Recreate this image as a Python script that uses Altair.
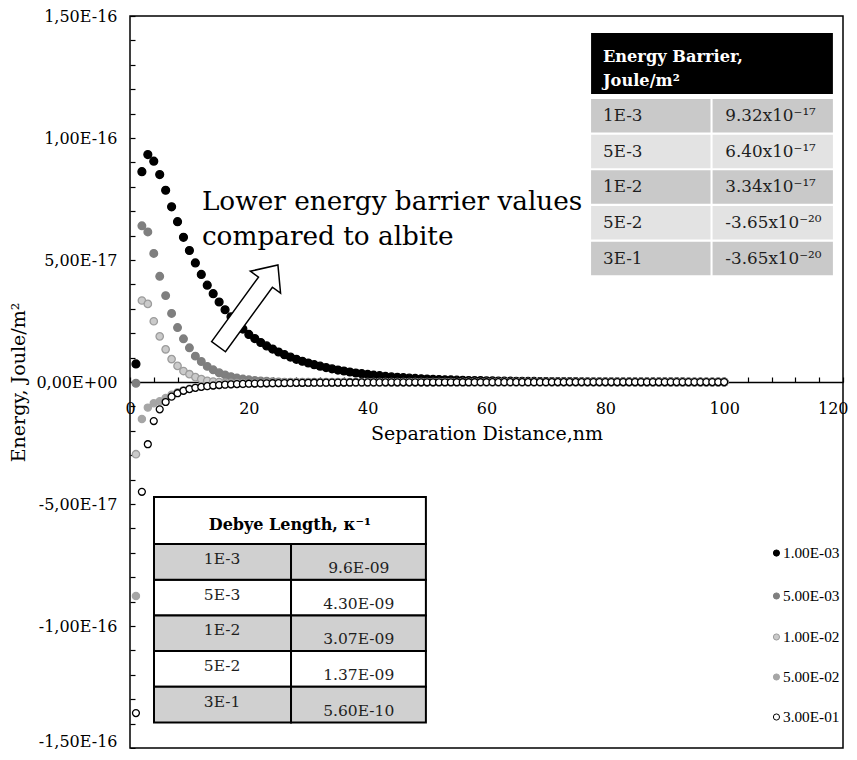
import json
import altair as alt
import pandas as pd

# ---------------- data (energy in units of 1e-17 J/m2) ----------------
SERIES = ["1.00E-03", "5.00E-03", "1.00E-02", "5.00E-02", "3.00E-01"]
FILLS = ["#000000", "#7f7f7f", "#cacaca", "#a6a6a6", "#ffffff"]
STROKES = ["#000000", "#7f7f7f", "#9c9c9c", "#a6a6a6", "#000000"]
SIZES = [62, 48, 62, 46, 62]

DIST_NM = list(range(1, 101))

E_1E3 = [0.74, 8.62, 9.32, 9.05, 8.50, 7.86, 7.18, 6.57, 5.93, 5.39,
         4.88, 4.41, 3.97, 3.62, 3.28, 2.96, 2.67, 2.41, 2.17, 1.95,
         1.78, 1.62, 1.48, 1.35, 1.23, 1.12, 1.02, 0.93, 0.85, 0.78,
         0.71, 0.65, 0.59, 0.54, 0.49, 0.45, 0.41, 0.37, 0.34, 0.31,
         0.28, 0.26, 0.23, 0.21, 0.19, 0.176, 0.16, 0.146, 0.133, 0.121,
         0.11, 0.10, 0.092, 0.084, 0.076, 0.070, 0.063, 0.058, 0.053, 0.048,
         0.044, 0.040, 0.036, 0.033, 0.030, 0.027, 0.025, 0.023, 0.021, 0.019,
         0.017, 0.015, 0.014, 0.013, 0.012, 0.011, 0.010, 0.009, 0.008, 0.007,
         0.006, 0.006, 0.005, 0.005, 0.004, 0.004, 0.003, 0.003, 0.003, 0.002,
         0.002, 0.002, 0.002, 0.001, 0.001, 0.001, 0.001, 0.001, 0.001, 0.001]

E_5E3 = [-0.05, 6.40, 6.15, 5.27, 4.33, 3.54, 2.81, 2.23, 1.77, 1.40,
         1.06, 0.84, 0.64, 0.50, 0.38, 0.29, 0.22, 0.16, 0.12, 0.09,
         0.06, 0.04, 0.03, 0.01, 0.00, -0.005, -0.01, -0.01, -0.01, -0.01,
         -0.01, -0.01, -0.01, -0.01, -0.01, -0.01, -0.01, -0.01, -0.01, -0.01,
         -0.008, -0.008, -0.008, -0.008, -0.008, -0.008, -0.008, -0.008, -0.008, -0.008,
         -0.006, -0.006, -0.006, -0.006, -0.006, -0.006, -0.006, -0.006, -0.006, -0.006,
         -0.005, -0.005, -0.005, -0.005, -0.005, -0.005, -0.005, -0.005, -0.005, -0.005,
         -0.004, -0.004, -0.004, -0.004, -0.004, -0.004, -0.004, -0.004, -0.004, -0.004,
         -0.003, -0.003, -0.003, -0.003, -0.003, -0.003, -0.003, -0.003, -0.003, -0.003,
         -0.003, -0.003, -0.003, -0.003, -0.003, -0.003, -0.003, -0.003, -0.003, -0.003]

E_1E2 = [-2.96, 3.34, 3.20, 2.49, 1.87, 1.34, 0.94, 0.66, 0.45, 0.32,
         0.20, 0.12, 0.05, 0.02, 0.00, -0.03, -0.04, -0.05, -0.05, -0.05,
         -0.05, -0.05, -0.04, -0.04, -0.04, -0.04, -0.03, -0.03, -0.03, -0.03,
         -0.03, -0.025, -0.025, -0.025, -0.02, -0.02, -0.02, -0.02, -0.02, -0.02,
         -0.015, -0.015, -0.015, -0.015, -0.015, -0.012, -0.012, -0.012, -0.012, -0.012,
         -0.01, -0.01, -0.01, -0.01, -0.01, -0.009, -0.009, -0.009, -0.008, -0.008,
         -0.008, -0.007, -0.007, -0.007, -0.007, -0.006, -0.006, -0.006, -0.006, -0.006,
         -0.005, -0.005, -0.005, -0.005, -0.005, -0.005, -0.005, -0.005, -0.004, -0.004,
         -0.004, -0.004, -0.004, -0.004, -0.004, -0.004, -0.004, -0.004, -0.003, -0.003,
         -0.003, -0.003, -0.003, -0.003, -0.003, -0.003, -0.003, -0.003, -0.003, -0.003]

E_5E2 = [-8.77, -1.52, -1.05, -0.87, -0.79, -0.66, -0.52, -0.42, -0.34, -0.28,
         -0.23, -0.19, -0.165, -0.14, -0.125, -0.11, -0.097, -0.086, -0.078, -0.07,
         -0.063, -0.058, -0.053, -0.049, -0.045, -0.041, -0.038, -0.036, -0.033, -0.031,
         -0.029, -0.027, -0.026, -0.024, -0.023, -0.022, -0.020, -0.019, -0.018, -0.018,
         -0.017, -0.016, -0.015, -0.014, -0.014, -0.013, -0.013, -0.012, -0.012, -0.011,
         -0.011, -0.010, -0.010, -0.010, -0.009, -0.009, -0.009, -0.008, -0.008, -0.008,
         -0.0075, -0.0073, -0.007, -0.0068, -0.0066, -0.0064, -0.0062, -0.006, -0.0058, -0.0057,
         -0.0055, -0.0054, -0.0052, -0.0051, -0.005, -0.0048, -0.0047, -0.0046, -0.0045, -0.0044,
         -0.0043, -0.0042, -0.0041, -0.004, -0.0039, -0.0038, -0.0037, -0.0036, -0.0035, -0.0035,
         -0.0034, -0.0033, -0.0032, -0.0032, -0.0031, -0.003, -0.003, -0.0029, -0.0029, -0.0028]

E_3E1 = [-13.57, -4.50, -2.55, -1.60, -1.12, -0.82, -0.60, -0.46, -0.36, -0.29,
         -0.24, -0.20, -0.17, -0.145, -0.125, -0.11, -0.097, -0.086, -0.078, -0.07,
         -0.063, -0.058, -0.053, -0.049, -0.045, -0.041, -0.038, -0.036, -0.033, -0.031,
         -0.029, -0.027, -0.026, -0.024, -0.023, -0.022, -0.020, -0.019, -0.018, -0.018,
         -0.017, -0.016, -0.015, -0.014, -0.014, -0.013, -0.013, -0.012, -0.012, -0.011,
         -0.011, -0.010, -0.010, -0.010, -0.009, -0.009, -0.009, -0.008, -0.008, -0.008,
         -0.0075, -0.0073, -0.007, -0.0068, -0.0066, -0.0064, -0.0062, -0.006, -0.0058, -0.0057,
         -0.0055, -0.0054, -0.0052, -0.0051, -0.005, -0.0048, -0.0047, -0.0046, -0.0045, -0.0044,
         -0.0043, -0.0042, -0.0041, -0.004, -0.0039, -0.0038, -0.0037, -0.0036, -0.0035, -0.0035,
         -0.0034, -0.0033, -0.0032, -0.0032, -0.0031, -0.003, -0.003, -0.0029, -0.0029, -0.0028]

X_LABEL_TICKS = [0, 20, 40, 60, 80, 100, 120]
X_MINOR_TICKS = list(range(0, 121, 4))
Y_TICKS = [-15, -10, -5, 0, 5, 10, 15]
Y_TICK_LABELS = ["-1,50E-16", "-1,00E-16", "-5,00E-17", "0,00E+00",
                 "5,00E-17", "1,00E-16", "1,50E-16"]
Y_MINOR_TICKS = list(range(-15, 16, 1))

TABLE_CONC = ["1E-3", "5E-3", "1E-2", "5E-2", "3E-1"]
BARRIER_TEXT = ["9.32x10\u207b\u00b9\u2077", "6.40x10\u207b\u00b9\u2077",
                "3.34x10\u207b\u00b9\u2077", "-3.65x10\u207b\u00b2\u2070",
                "-3.65x10\u207b\u00b2\u2070"]
DEBYE_TEXT = ["9.6E-09", "4.30E-09", "3.07E-09", "1.37E-09", "5.60E-10"]

ANNOTATION = "Lower energy barrier values\ncompared to albite"

# ---------------- layout ----------------
W, H = 713, 732
FONT = "DejaVu Serif"
ROW = 1.463                      # table row pitch in 1e-17 units

EB_X0, EB_XM1, EB_XM2, EB_X1 = 77.6, 97.7, 98.05, 118.3
EB_HEAD_TOP, EB_HEAD_BOT = 14.30, 11.80
EB_ROW_TOP, EB_ROW_H = 11.60, 1.373
DB_X0, DB_XM, DB_X1 = 4.04, 27.1, 49.8
DB_HEAD_TOP, DB_HEAD_BOT = -4.71, -6.64
LEG_SYM_X, LEG_TXT_X = 108.8, 109.9
LEG_Y = [-7.01, -8.77, -10.45, -12.09, -13.73]

rows = []
for name, vals in zip(SERIES, [E_1E3, E_5E3, E_1E2, E_5E2, E_3E1]):
    for d, v in zip(DIST_NM, vals):
        rows.append({"series": name, "x": d, "y": v})
df = pd.DataFrame(rows)

xscale = alt.Scale(domain=[0, 120], nice=False, zero=False)
yscale = alt.Scale(domain=[-15, 15], nice=False, zero=False)
fill_scale = alt.Scale(domain=SERIES, range=FILLS)
stroke_scale = alt.Scale(domain=SERIES, range=STROKES)
NOAX_X = dict(axis=None, scale=xscale)
NOAX_Y = dict(axis=None, scale=yscale)

label_expr = f"{json.dumps(Y_TICK_LABELS)}[indexof({json.dumps(Y_TICKS)}, datum.value)]"
YLAB = dict(labelExpr=label_expr, ticks=False, tickSize=0, domain=False, grid=False,
            labelPadding=13, labelFont=FONT, labelFontSize=16, labelColor="black")

points = alt.Chart(df).mark_circle(opacity=1, strokeWidth=1.3).encode(
    x=alt.X("x:Q", scale=xscale, axis=alt.Axis(
        orient="bottom", offset=-H / 2, values=X_LABEL_TICKS, ticks=False, tickSize=0,
        domain=False, grid=False, labelFlush=True, labelFlushOffset=5, labelPadding=18,
        labelFont=FONT, labelFontSize=16, labelColor="black",
        title="Separation Distance,nm", titleFont=FONT, titleFontSize=19,
        titleFontWeight="normal", titleColor="black", titlePadding=8)),
    y=alt.Y("y:Q", scale=yscale, axis=alt.Axis(
        orient="left", values=Y_TICKS[:-1], labelFlush=True, labelFlushOffset=1,
        title="Energy, Joule/m\u00b2", titleFont=FONT,
        titleFontSize=19, titleFontWeight="normal", titleColor="black", titlePadding=7,
        **YLAB)),
    fill=alt.Fill("series:N", scale=fill_scale, legend=None),
    stroke=alt.Stroke("series:N", scale=stroke_scale, legend=None),
    size=alt.Size("series:N", scale=alt.Scale(domain=SERIES, range=SIZES), legend=None),
)

# inside tick marks on the zero line and the left edge; top y label
tick_layer = alt.Chart(df).mark_point(opacity=0).encode(
    x=alt.X("x:Q", scale=xscale, axis=alt.Axis(
        orient="top", offset=-H / 2, values=X_MINOR_TICKS, labels=False, ticks=True,
        tickSize=5, tickColor="black", tickWidth=1.2, domain=True, domainColor="black",
        domainWidth=1.6, grid=False, title=None)),
    y=alt.Y("y:Q", scale=yscale, axis=alt.Axis(
        orient="left", values=Y_MINOR_TICKS, labels=False, ticks=True, tickSize=5,
        tickColor="black", tickWidth=1.2, domain=False, grid=False, title=None,
        offset=-5)),
)
top_label = alt.Chart(df).mark_point(opacity=0).encode(
    x=alt.X("x:Q", **NOAX_X),
    y=alt.Y("y:Q", scale=yscale, axis=alt.Axis(
        orient="left", values=Y_TICKS[-1:], labelFlush=False, title=None, **YLAB)),
)

# arrow annotation
ARROW_PATH = "M -0.17 1 L -0.17 -0.58 L -0.37 -0.58 L 0 -1 L 0.37 -0.58 L 0.17 -0.58 L 0.17 1 Z"
arrow = alt.Chart(pd.DataFrame({"x": [19.9], "y": [3.12]})).mark_point(
    shape=ARROW_PATH, size=10201, angle=36, filled=True, fill="white",
    stroke="black", strokeWidth=1.5, opacity=1).encode(
    x=alt.X("x:Q", **NOAX_X), y=alt.Y("y:Q", **NOAX_Y))

note = alt.Chart(pd.DataFrame({"x": [12.1], "y": [7.05], "t": [ANNOTATION]})).mark_text(
    align="left", baseline="alphabetic", font=FONT, fontSize=26.3, lineBreak="\n",
    lineHeight=35, color="black").encode(
    x=alt.X("x:Q", **NOAX_X), y=alt.Y("y:Q", **NOAX_Y), text="t:N")

# legend
leg_df = pd.DataFrame({"series": SERIES, "x": [LEG_SYM_X] * 5, "xt": [LEG_TXT_X] * 5,
                       "y": LEG_Y})
leg_sym = alt.Chart(leg_df).mark_circle(opacity=1, strokeWidth=1, size=38).encode(
    x=alt.X("x:Q", **NOAX_X), y=alt.Y("y:Q", **NOAX_Y),
    fill=alt.Fill("series:N", scale=fill_scale, legend=None),
    stroke=alt.Stroke("series:N", scale=stroke_scale, legend=None))
leg_txt = alt.Chart(leg_df).mark_text(
    align="left", baseline="middle", font="Liberation Serif", fontSize=15.3,
    color="black").encode(x=alt.X("xt:Q", **NOAX_X), y=alt.Y("y:Q", **NOAX_Y),
                          text="series:N")

# energy barrier table
eb_cells = []
eb_text = []
for k, (c, v) in enumerate(zip(TABLE_CONC, BARRIER_TEXT)):
    top = EB_ROW_TOP - ROW * k
    col = "#c9c9c9" if k % 2 == 0 else "#e3e3e3"
    eb_cells.append({"x": EB_X0, "x2": EB_XM1, "y": top, "y2": top - EB_ROW_H, "f": col})
    eb_cells.append({"x": EB_XM2, "x2": EB_X1, "y": top, "y2": top - EB_ROW_H, "f": col})
    eb_text.append({"x": 79.6, "y": top - 0.90, "t": c})
    eb_text.append({"x": 100.2, "y": top - 0.90, "t": v})
eb_cells.append({"x": EB_X0, "x2": EB_X1, "y": EB_HEAD_TOP, "y2": EB_HEAD_BOT, "f": "#000000"})
eb_df = pd.DataFrame(eb_cells)

eb_rects = [
    alt.Chart(eb_df).transform_filter(alt.FieldEqualPredicate(field="f", equal=colr))
    .mark_rect(fill=colr).encode(
        x=alt.X("x:Q", **NOAX_X), x2="x2:Q", y=alt.Y("y:Q", **NOAX_Y), y2="y2:Q")
    for colr in ["#c9c9c9", "#e3e3e3", "#000000"]
]
eb_txt = alt.Chart(pd.DataFrame(eb_text)).mark_text(
    align="left", baseline="alphabetic", font=FONT, fontSize=16.8, color="#1e1e1e").encode(
    x=alt.X("x:Q", **NOAX_X), y=alt.Y("y:Q", **NOAX_Y), text="t:N")
eb_head = alt.Chart(pd.DataFrame({"x": [79.6], "y": [13.11],
                                  "t": ["Energy Barrier,\nJoule/m\u00b2"]})).mark_text(
    align="left", baseline="alphabetic", font=FONT, fontSize=16.2, fontWeight="bold",
    color="white", lineBreak="\n", lineHeight=23.7).encode(
    x=alt.X("x:Q", **NOAX_X), y=alt.Y("y:Q", **NOAX_Y), text="t:N")

# debye length table
db_cells = [{"x": DB_X0, "x2": DB_X1, "y": DB_HEAD_TOP, "y2": DB_HEAD_BOT, "f": "#ffffff"}]
db_text = []
for k, (c, v) in enumerate(zip(TABLE_CONC, DEBYE_TEXT)):
    top = DB_HEAD_BOT - ROW * k
    col = "#d0d0d0" if k % 2 == 0 else "#ffffff"
    db_cells.append({"x": DB_X0, "x2": DB_XM, "y": top, "y2": top - ROW, "f": col})
    db_cells.append({"x": DB_XM, "x2": DB_X1, "y": top, "y2": top - ROW, "f": col})
    db_text.append({"x": 15.5, "y": top - 0.82, "t": c})
    db_text.append({"x": 38.5, "y": top - 1.19, "t": v})
db_df = pd.DataFrame(db_cells)

db_rects = [
    alt.Chart(db_df).transform_filter(alt.FieldEqualPredicate(field="f", equal=colr))
    .mark_rect(fill=colr, stroke="black", strokeWidth=2).encode(
        x=alt.X("x:Q", **NOAX_X), x2="x2:Q", y=alt.Y("y:Q", **NOAX_Y), y2="y2:Q")
    for colr in ["#ffffff", "#d0d0d0"]
]
db_txt = alt.Chart(pd.DataFrame(db_text)).mark_text(
    align="center", baseline="alphabetic", font=FONT, fontSize=15.5, color="#1e1e1e").encode(
    x=alt.X("x:Q", **NOAX_X), y=alt.Y("y:Q", **NOAX_Y), text="t:N")
db_head = alt.Chart(pd.DataFrame({"x": [26.9], "y": [-6.07],
                                  "t": ["Debye Length, \u03ba\u207b\u00b9"]})).mark_text(
    align="center", baseline="alphabetic", font=FONT, fontSize=16, fontWeight="bold",
    color="black").encode(
    x=alt.X("x:Q", **NOAX_X), y=alt.Y("y:Q", **NOAX_Y), text="t:N")

chart = alt.layer(
    points, tick_layer, top_label, arrow, note, leg_sym, leg_txt,
    *eb_rects, eb_txt, eb_head, *db_rects, db_txt, db_head
).resolve_axis(x="independent", y="independent").properties(
    width=W, height=H, background="white",
    padding={"left": 1, "top": 0, "right": 0, "bottom": 0}
).configure_view(stroke="black", strokeWidth=1.5)

chart.save("out.html", embed_options={"renderer": "svg", "actions": False})
